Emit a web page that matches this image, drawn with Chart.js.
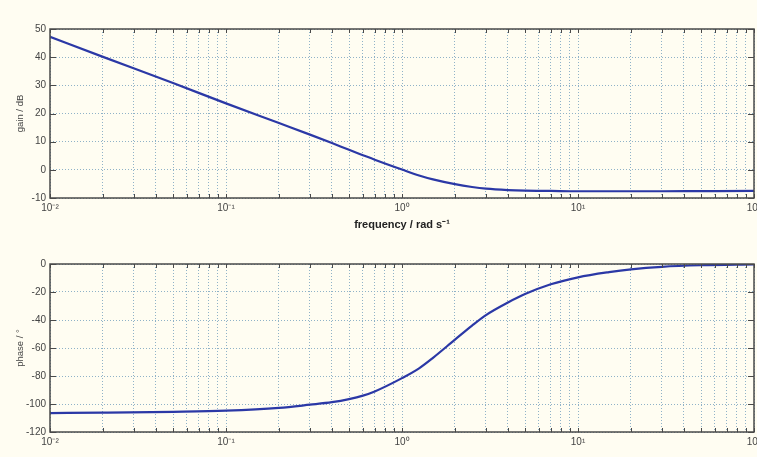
<!DOCTYPE html>
<html>
<head>
<meta charset="utf-8">
<script src="https://cdn.jsdelivr.net/npm/chart.js@4.4.1/dist/chart.umd.min.js"></script>
<style>
  html, body { margin: 0; padding: 0; background: #fffdf2; }
  #wrap { position: relative; width: 757px; height: 457px; overflow: hidden; }
  canvas { position: absolute; left: 0; }
</style>
</head>
<body>
<div id="wrap">
  <canvas id="gainChart" width="757" height="235" style="top:0"></canvas>
  <canvas id="phaseChart" width="757" height="222" style="top:235px"></canvas>
</div>
<script>
// frequency points (rad/s)
const freq  = [0.01, 0.02, 0.05, 0.1, 0.2, 0.3, 0.4, 0.5, 0.6, 0.7, 1, 1.25, 1.5, 2, 2.5, 3, 4, 5, 7, 10, 15, 20, 30, 50, 100];
const gain  = [47.2, 40.1, 30.8, 23.6, 16.6, 12.5, 9.5, 7.1, 5.2, 3.6, 0.1, -2.0, -3.4, -5.1, -6.1, -6.7, -7.2, -7.4, -7.5, -7.6, -7.6, -7.6, -7.6, -7.55, -7.5];
const phase = [-106.5, -106.2, -105.6, -104.8, -102.8, -100.5, -98.7, -96.5, -94, -91, -81.5, -74.5, -67, -54, -44, -36.5, -27.5, -21.5, -14.5, -9.5, -5.8, -3.8, -2, -0.9, -0.3];

const decades = [0.01, 0.1, 1, 10, 100];
const decadeLabels = ['10⁻²', '10⁻¹', '10⁰', '10¹', '10²'];
const gainTicks = [-10, 0, 10, 20, 30, 40, 50];
const phaseTicks = [-120, -100, -80, -60, -40, -20, 0];

// 1..9 per decade for the log grid
const xTickValues = [];
decades.slice(0, -1).forEach(d => {
    for (let m = 1; m < 10; m++) xTickValues.push(+(d * m).toPrecision(3));
});
xTickValues.push(100);

const FONT = "'Liberation Sans', Arial, sans-serif";
const GRID = '#8fb2c8';
const AXIS = '#4a4a4a';

// MATLAB style box with inward tick marks
const boxTicks = {
    id: 'boxTicks',
    afterDraw(chart) {
        const { ctx, chartArea: a, scales } = chart;
        ctx.save();
        ctx.strokeStyle = AXIS;
        ctx.lineWidth = 1;
        ctx.beginPath();
        scales.x.ticks.forEach(t => {
            const px = Math.round(scales.x.getPixelForValue(t.value)) + 0.5;
            ctx.moveTo(px, a.bottom); ctx.lineTo(px, a.bottom - 4);
            ctx.moveTo(px, a.top); ctx.lineTo(px, a.top + 4);
        });
        scales.y.ticks.forEach(t => {
            const py = Math.round(scales.y.getPixelForValue(t.value)) + 0.5;
            ctx.moveTo(a.left, py); ctx.lineTo(a.left + 6, py);
            ctx.moveTo(a.right, py); ctx.lineTo(a.right - 6, py);
        });
        ctx.stroke();
        ctx.lineWidth = 1.5;
        ctx.strokeRect(a.left, a.top, a.right - a.left, a.bottom - a.top);
        ctx.restore();
    }
};

function makePlot(id, yValues, yTicks, yTitle, xTitle, xHeight) {
    return new Chart(document.getElementById(id), {
        type: 'line',
        data: {
            datasets: [{
                data: freq.map((f, i) => ({ x: f, y: yValues[i] })),
                borderColor: '#2b38a6',
                borderWidth: 2.2,
                pointRadius: 0,
                cubicInterpolationMode: 'monotone',
                fill: false
            }]
        },
        options: {
            responsive: false,
            animation: false,
            layout: { padding: { top: 29, right: 3, left: 0, bottom: 0 } },
            plugins: { legend: { display: false }, tooltip: { enabled: false } },
            scales: {
                x: {
                    type: 'logarithmic',
                    min: 0.01,
                    max: 100,
                    afterBuildTicks: s => { s.ticks = xTickValues.map(v => ({ value: v })); },
                    afterFit: s => { s.height = xHeight; s.paddingLeft = 0; s.paddingRight = 0; },
                    grid: { color: GRID, drawTicks: false },
                    border: { display: false, dash: [1, 2] },   // v4 takes the grid dash from border.dash
                    ticks: {
                        autoSkip: false,
                        maxRotation: 0,
                        padding: 4,
                        color: '#444',
                        font: { family: FONT, size: 10 },
                        callback: v => {
                            const k = decades.indexOf(v);
                            return k >= 0 ? decadeLabels[k] : '';
                        }
                    },
                    title: {
                        display: !!xTitle,
                        text: xTitle,
                        color: '#222',
                        font: { family: FONT, size: 11, weight: 'bold' },
                        padding: { top: 0, bottom: 3 }
                    }
                },
                y: {
                    min: yTicks[0],
                    max: yTicks[yTicks.length - 1],
                    afterBuildTicks: s => { s.ticks = yTicks.map(v => ({ value: v })); },
                    afterFit: s => { s.width = 50; },
                    grid: { color: GRID, drawTicks: false },
                    border: { display: false, dash: [1, 2] },
                    ticks: {
                        padding: 4,
                        color: '#444',
                        font: { family: FONT, size: 10 }
                    },
                    title: {
                        display: true,
                        text: yTitle,
                        color: '#444',
                        font: { family: FONT, size: 9.5 },
                        padding: { top: 15, bottom: 0 }
                    }
                }
            }
        },
        plugins: [boxTicks]
    });
}

makePlot('gainChart', gain, gainTicks, 'gain / dB', 'frequency / rad s⁻¹', 37);
makePlot('phaseChart', phase, phaseTicks, 'phase / °', '', 25);
</script>
</body>
</html>
